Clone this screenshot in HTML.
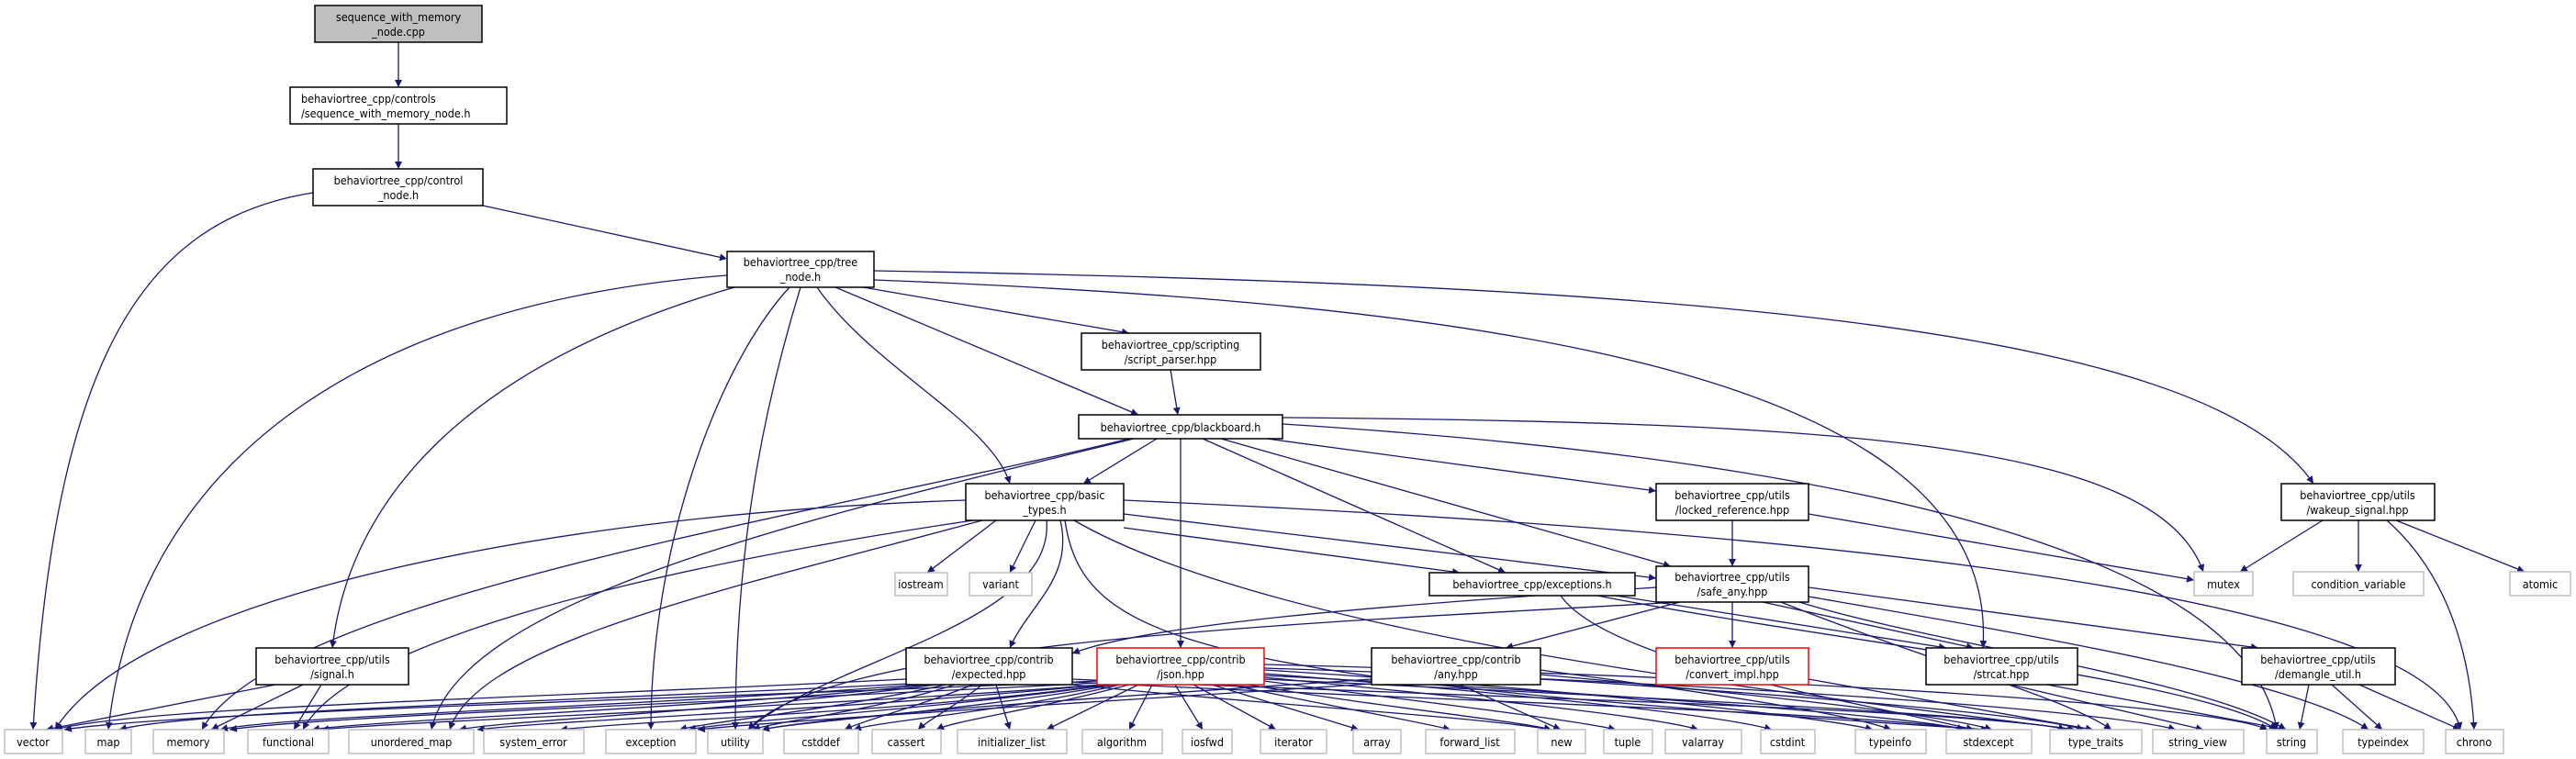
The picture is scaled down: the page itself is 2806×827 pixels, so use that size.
<!DOCTYPE html>
<html><head><meta charset="utf-8"><style>
html,body{margin:0;padding:0;background:#fff;}
svg{display:block;}
text{font-family:"DejaVu Sans Condensed","DejaVu Sans","Liberation Sans",sans-serif;font-size:12.5px;fill:#000;}
.e{fill:none;stroke:#191970;stroke-width:1.3;}
.n{fill:#fff;stroke:#000;stroke-width:1.5;}
.g{fill:#fff;stroke:#bfbfbf;stroke-width:1.5;}
.r{fill:#fff;stroke:#ff0000;stroke-width:1.5;}
</style></head><body>
<svg width="2806" height="827" viewBox="0 0 2806 827" xmlns="http://www.w3.org/2000/svg">
<defs><marker id="a" viewBox="0 0 10 10" refX="10" refY="5" markerWidth="8" markerHeight="8" orient="auto" markerUnits="userSpaceOnUse"><path d="M0,0 L10,5 L0,10 z" fill="#191970"/></marker></defs>
<g class="e" marker-end="url(#a)">
<path d="M434 46 L434 95"/>
<path d="M434 135 L434 184"/>
<path d="M341 210 C150 240,60 400,36 795"/>
<path d="M526 224 L792 282"/>
<path d="M792 300 C400 330,150 500,118 795"/>
<path d="M800 313 C500 400,380 550,362 706"/>
<path d="M860 313 C780 400,709 600,709 795"/>
<path d="M872 313 C830 450,801 600,801 795"/>
<path d="M890 313 C950 400,1080 460,1100 527"/>
<path d="M910 313 L1240 452"/>
<path d="M940 313 L1230 363"/>
<path d="M952 305 C1600 330,2180 400,2160 706"/>
<path d="M952 295 C1800 310,2400 350,2520 527"/>
<path d="M1275 403 L1283 452"/>
<path d="M1260 478 L1180 527"/>
<path d="M1286 478 L1286 706"/>
<path d="M1310 478 L1640 624"/>
<path d="M1330 478 L1820 617"/>
<path d="M1380 478 L1804 535"/>
<path d="M1397 455 C2000 460,2350 480,2400 623"/>
<path d="M1397 462 C2000 500,2450 600,2480 795"/>
<path d="M1230 478 C900 560,300 650,220 795"/>
<path d="M1235 478 C900 560,500 650,470 795"/>
<path d="M1052 545 C600 560,150 650,60 795"/>
<path d="M1060 567 C700 620,380 700,330 795"/>
<path d="M1070 567 C800 640,520 700,490 795"/>
<path d="M1140 567 C1150 680,900 720,815 795"/>
<path d="M1085 567 L1010 624"/>
<path d="M1128 567 L1100 624"/>
<path d="M1155 567 C1170 630,1120 660,1100 706"/>
<path d="M1170 567 C1400 700,2000 760,2260 795"/>
<path d="M1224 575 L1590 624"/>
<path d="M1224 560 L1804 630"/>
<path d="M1224 545 C2000 580,2650 650,2680 795"/>
<path d="M1160 567 C1180 700,1300 740,2166 795"/>
<path d="M1887 567 L1887 617"/>
<path d="M1970 560 L2390 632"/>
<path d="M2530 567 L2440 623"/>
<path d="M2569 567 L2569 623"/>
<path d="M2610 567 L2750 623"/>
<path d="M2600 567 C2660 620,2690 700,2695 795"/>
<path d="M1700 649 C1750 720,2000 760,2150 795"/>
<path d="M1740 649 C2000 700,2400 740,2480 795"/>
<path d="M1760 649 L2120 706"/>
<path d="M1804 640 C1500 660,1250 680,1168 712"/>
<path d="M1830 656 L1640 706"/>
<path d="M1887 656 L1887 706"/>
<path d="M1920 656 L2150 706"/>
<path d="M1970 640 L2460 706"/>
<path d="M1960 656 C2100 700,2400 740,2490 795"/>
<path d="M1970 650 C2200 690,2500 740,2580 795"/>
<path d="M1940 656 C2100 720,2250 760,2300 795"/>
<path d="M1830 656 C1400 680,900 700,815 795"/>
<path d="M300 746 L50 795"/>
<path d="M330 746 L230 795"/>
<path d="M350 746 L320 795"/>
<path d="M987 740 C600 760,150 770,60 795"/>
<path d="M990 745 C600 765,200 775,130 795"/>
<path d="M1000 746 C700 770,300 780,240 795"/>
<path d="M1010 746 C800 770,400 785,340 795"/>
<path d="M1020 746 C800 775,550 785,500 795"/>
<path d="M1030 746 C900 775,780 785,740 795"/>
<path d="M1040 746 C950 775,850 785,820 795"/>
<path d="M1060 746 C1000 770,940 785,920 795"/>
<path d="M1070 746 C1040 770,1010 785,1000 795"/>
<path d="M1085 746 L1100 795"/>
<path d="M1168 746 C1400 770,1600 780,1690 795"/>
<path d="M1168 740 C1600 760,2100 770,2260 795"/>
<path d="M1168 743 C1600 765,2000 775,2150 795"/>
<path d="M1195 742 C800 760,200 775,70 795"/>
<path d="M1197 744 C800 765,350 780,250 795"/>
<path d="M1199 746 C900 770,450 785,350 795"/>
<path d="M1201 746 C900 775,600 785,520 795"/>
<path d="M1205 746 C1000 775,700 785,610 795"/>
<path d="M1210 746 C1000 775,800 785,750 795"/>
<path d="M1215 746 C1050 775,880 785,830 795"/>
<path d="M1220 746 C1100 775,960 785,930 795"/>
<path d="M1230 746 C1120 775,1040 785,1020 795"/>
<path d="M1240 746 L1140 795"/>
<path d="M1255 746 L1230 795"/>
<path d="M1280 746 L1310 795"/>
<path d="M1300 746 L1390 795"/>
<path d="M1320 746 L1480 795"/>
<path d="M1340 746 C1450 770,1540 785,1580 795"/>
<path d="M1360 746 C1500 770,1650 785,1690 795"/>
<path d="M1377 742 C1550 765,1720 785,1760 795"/>
<path d="M1377 738 C1600 760,1800 780,1850 795"/>
<path d="M1377 734 C1650 755,1880 780,1930 795"/>
<path d="M1377 730 C1700 750,1980 780,2040 795"/>
<path d="M1377 736 C1750 755,2080 780,2140 795"/>
<path d="M1377 740 C1800 760,2200 780,2250 795"/>
<path d="M1377 728 C1900 745,2300 775,2370 795"/>
<path d="M1377 724 C2000 740,2420 770,2470 795"/>
<path d="M1590 746 L1700 795"/>
<path d="M1494 740 C1200 760,900 780,830 795"/>
<path d="M1494 745 C1200 765,850 785,760 795"/>
<path d="M1678 730 C1900 760,2020 780,2060 795"/>
<path d="M1678 740 C2000 760,2220 780,2270 795"/>
<path d="M1678 735 C1950 760,2120 780,2170 795"/>
<path d="M1970 740 L2280 795"/>
<path d="M2190 746 L2400 795"/>
<path d="M2230 746 L2490 795"/>
<path d="M2515 746 L2505 795"/>
<path d="M2540 746 L2595 795"/>
<path d="M2570 746 L2680 795"/>
</g>
<g>
<rect x="343" y="6" width="182" height="40" fill="#bfbfbf" stroke="#000" stroke-width="1.5"/>
<text x="434" y="23" text-anchor="middle">sequence_with_memory</text><text x="434" y="39" text-anchor="middle">_node.cpp</text>
<rect class="n" x="316" y="95" width="236" height="40"/>
<text x="328" y="112">behaviortree_cpp/controls</text><text x="328" y="128">/sequence_with_memory_node.h</text>
<rect class="n" x="341" y="184" width="185" height="40"/>
<text x="434" y="201" text-anchor="middle">behaviortree_cpp/control</text><text x="434" y="217" text-anchor="middle">_node.h</text>
<rect class="n" x="792" y="274" width="160" height="39"/>
<text x="872" y="290" text-anchor="middle">behaviortree_cpp/tree</text><text x="872" y="306" text-anchor="middle">_node.h</text>
<rect class="n" x="1178" y="363" width="195" height="40"/>
<text x="1275" y="380" text-anchor="middle">behaviortree_cpp/scripting</text><text x="1275" y="396" text-anchor="middle">/script_parser.hpp</text>
<rect class="n" x="1175" y="452" width="222" height="26"/>
<text x="1286" y="470" text-anchor="middle">behaviortree_cpp/blackboard.h</text>
<rect class="n" x="1052" y="527" width="172" height="40"/>
<text x="1138" y="544" text-anchor="middle">behaviortree_cpp/basic</text><text x="1138" y="560" text-anchor="middle">_types.h</text>
<rect class="n" x="1804" y="527" width="166" height="40"/>
<text x="1887" y="544" text-anchor="middle">behaviortree_cpp/utils</text><text x="1887" y="560" text-anchor="middle">/locked_reference.hpp</text>
<rect class="n" x="2485" y="527" width="167" height="40"/>
<text x="2568" y="544" text-anchor="middle">behaviortree_cpp/utils</text><text x="2568" y="560" text-anchor="middle">/wakeup_signal.hpp</text>
<rect class="n" x="1557" y="624" width="224" height="25"/>
<text x="1669" y="641" text-anchor="middle">behaviortree_cpp/exceptions.h</text>
<rect class="n" x="1804" y="617" width="166" height="39"/>
<text x="1887" y="633" text-anchor="middle">behaviortree_cpp/utils</text><text x="1887" y="649" text-anchor="middle">/safe_any.hpp</text>
<rect class="g" x="975" y="624" width="57" height="25"/><text x="1003" y="641" text-anchor="middle">iostream</text>
<rect class="g" x="1056" y="624" width="68" height="25"/><text x="1090" y="641" text-anchor="middle">variant</text>
<rect class="g" x="2390" y="623" width="64" height="26"/><text x="2422" y="641" text-anchor="middle">mutex</text>
<rect class="g" x="2498" y="623" width="142" height="26"/><text x="2569" y="641" text-anchor="middle">condition_variable</text>
<rect class="g" x="2734" y="623" width="66" height="26"/><text x="2767" y="641" text-anchor="middle">atomic</text>
<rect class="n" x="279" y="706" width="166" height="40"/>
<text x="362" y="723" text-anchor="middle">behaviortree_cpp/utils</text><text x="362" y="739" text-anchor="middle">/signal.h</text>
<rect class="n" x="987" y="706" width="181" height="40"/>
<text x="1077" y="723" text-anchor="middle">behaviortree_cpp/contrib</text><text x="1077" y="739" text-anchor="middle">/expected.hpp</text>
<rect class="r" x="1195" y="706" width="182" height="40"/>
<text x="1286" y="723" text-anchor="middle">behaviortree_cpp/contrib</text><text x="1286" y="739" text-anchor="middle">/json.hpp</text>
<rect class="n" x="1494" y="706" width="184" height="40"/>
<text x="1586" y="723" text-anchor="middle">behaviortree_cpp/contrib</text><text x="1586" y="739" text-anchor="middle">/any.hpp</text>
<rect class="r" x="1804" y="706" width="166" height="40"/>
<text x="1887" y="723" text-anchor="middle">behaviortree_cpp/utils</text><text x="1887" y="739" text-anchor="middle">/convert_impl.hpp</text>
<rect class="n" x="2098" y="706" width="165" height="40"/>
<text x="2180" y="723" text-anchor="middle">behaviortree_cpp/utils</text><text x="2180" y="739" text-anchor="middle">/strcat.hpp</text>
<rect class="n" x="2442" y="706" width="167" height="40"/>
<text x="2525" y="723" text-anchor="middle">behaviortree_cpp/utils</text><text x="2525" y="739" text-anchor="middle">/demangle_util.h</text>
</g>
<g>
<rect class="g" x="5" y="795" width="63" height="26"/><text x="36" y="813" text-anchor="middle">vector</text>
<rect class="g" x="93" y="795" width="50" height="26"/><text x="118" y="813" text-anchor="middle">map</text>
<rect class="g" x="167" y="795" width="77" height="26"/><text x="205" y="813" text-anchor="middle">memory</text>
<rect class="g" x="270" y="795" width="88" height="26"/><text x="314" y="813" text-anchor="middle">functional</text>
<rect class="g" x="380" y="795" width="136" height="26"/><text x="448" y="813" text-anchor="middle">unordered_map</text>
<rect class="g" x="527" y="795" width="109" height="26"/><text x="581" y="813" text-anchor="middle">system_error</text>
<rect class="g" x="660" y="795" width="98" height="26"/><text x="709" y="813" text-anchor="middle">exception</text>
<rect class="g" x="771" y="795" width="60" height="26"/><text x="801" y="813" text-anchor="middle">utility</text>
<rect class="g" x="854" y="795" width="81" height="26"/><text x="894" y="813" text-anchor="middle">cstddef</text>
<rect class="g" x="950" y="795" width="75" height="26"/><text x="987" y="813" text-anchor="middle">cassert</text>
<rect class="g" x="1043" y="795" width="119" height="26"/><text x="1102" y="813" text-anchor="middle">initializer_list</text>
<rect class="g" x="1179" y="795" width="87" height="26"/><text x="1222" y="813" text-anchor="middle">algorithm</text>
<rect class="g" x="1288" y="795" width="54" height="26"/><text x="1315" y="813" text-anchor="middle">iosfwd</text>
<rect class="g" x="1373" y="795" width="72" height="26"/><text x="1409" y="813" text-anchor="middle">iterator</text>
<rect class="g" x="1474" y="795" width="52" height="26"/><text x="1500" y="813" text-anchor="middle">array</text>
<rect class="g" x="1553" y="795" width="97" height="26"/><text x="1601" y="813" text-anchor="middle">forward_list</text>
<rect class="g" x="1675" y="795" width="52" height="26"/><text x="1701" y="813" text-anchor="middle">new</text>
<rect class="g" x="1747" y="795" width="53" height="26"/><text x="1773" y="813" text-anchor="middle">tuple</text>
<rect class="g" x="1814" y="795" width="83" height="26"/><text x="1855" y="813" text-anchor="middle">valarray</text>
<rect class="g" x="1918" y="795" width="59" height="26"/><text x="1947" y="813" text-anchor="middle">cstdint</text>
<rect class="g" x="2021" y="795" width="77" height="26"/><text x="2059" y="813" text-anchor="middle">typeinfo</text>
<rect class="g" x="2120" y="795" width="93" height="26"/><text x="2166" y="813" text-anchor="middle">stdexcept</text>
<rect class="g" x="2233" y="795" width="100" height="26"/><text x="2283" y="813" text-anchor="middle">type_traits</text>
<rect class="g" x="2345" y="795" width="99" height="26"/><text x="2394" y="813" text-anchor="middle">string_view</text>
<rect class="g" x="2469" y="795" width="55" height="26"/><text x="2496" y="813" text-anchor="middle">string</text>
<rect class="g" x="2552" y="795" width="88" height="26"/><text x="2596" y="813" text-anchor="middle">typeindex</text>
<rect class="g" x="2664" y="795" width="63" height="26"/><text x="2695" y="813" text-anchor="middle">chrono</text>
</g>
</svg>
</body></html>
